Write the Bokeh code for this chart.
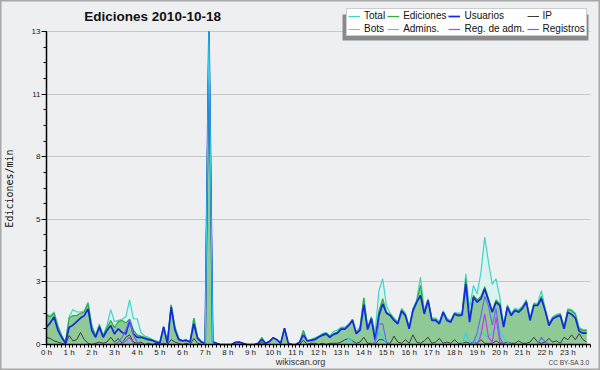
import math
from bokeh.plotting import figure
from bokeh.models import (Range1d, FixedTicker, Label, Legend, LegendItem,
                          BoxAnnotation, ColumnDataSource, LinearAxis, Grid)
from bokeh.embed import file_html
from bokeh.resources import INLINE

# ---- data: one value every 10 minutes (144 points) ----
minutes = list(range(0, 1440, 10))
hour_ticks = list(range(24))
hour_labels = [f"{h} h" for h in hour_ticks]
y_ticks = [0, 2.6, 5.2, 7.8, 10.4, 13]
y_labels = ["0", "3", "5", "8", "11", "13"]

total = [
    1.25, 1.20, 1.35, 0.80, 0.40, 0.10,
    1.15, 1.45, 1.35, 1.35, 1.40, 1.75,
    0.80, 0.40, 0.85, 0.40, 0.80, 1.45,
    0.95, 1.00, 1.05, 1.15, 1.85, 1.07,
    1.07, 0.50, 0.35, 0.30, 0.20, 0.15,
    0.10, 0.75, 0.15, 1.65, 0.75, 0.25,
    0.15, 0.20, 0.10, 1.10, 0.30, 0.15,
    0.05, 13.0, 0.15, 0.05, 0.00, 0.00,
    0.00, 0.00, 0.10, 0.10, 0.05, 0.00,
    0.00, 0.00, 0.05, 0.30, 0.05, 0.15,
    0.28, 0.20, 0.05, 0.68, 0.05, 0.00,
    0.00, 0.10, 0.58, 0.15, 0.20, 0.28,
    0.35, 0.45, 0.50, 0.36, 0.55, 0.60,
    0.72, 0.72, 0.85, 1.05, 0.50, 0.75,
    1.94, 0.70, 1.15, 0.50, 2.24, 2.73,
    1.60, 1.30, 1.10, 0.95, 1.50, 1.30,
    0.75, 1.50, 1.86, 2.80, 1.40, 1.90,
    1.10, 1.10, 0.95, 1.40, 1.10, 1.00,
    1.32, 1.30, 1.30, 2.94, 1.50, 2.45,
    2.10, 3.00, 4.46, 3.42, 2.50, 2.73,
    1.97, 0.80, 1.65, 1.30, 1.50, 1.45,
    1.60, 1.86, 1.10, 1.72, 1.70, 2.24,
    1.50, 0.90, 1.15, 1.25, 1.30, 0.75,
    1.48, 1.45, 1.30, 0.70, 0.62, 0.62,
]
ediciones = [
    1.20, 1.15, 1.30, 0.75, 0.35, 0.05,
    1.10, 1.20, 1.20, 1.30, 1.35, 1.70,
    0.75, 0.35, 0.80, 0.35, 0.70, 1.00,
    0.70, 0.95, 1.00, 0.90, 1.05, 0.60,
    0.40, 0.35, 0.30, 0.25, 0.20, 0.12,
    0.10, 0.75, 0.10, 1.65, 0.70, 0.25,
    0.15, 0.20, 0.10, 1.10, 0.30, 0.10,
    0.05, 13.0, 0.10, 0.05, 0.00, 0.00,
    0.00, 0.00, 0.10, 0.10, 0.05, 0.00,
    0.00, 0.00, 0.05, 0.28, 0.05, 0.15,
    0.28, 0.20, 0.05, 0.68, 0.05, 0.00,
    0.00, 0.10, 0.58, 0.15, 0.20, 0.25,
    0.32, 0.42, 0.48, 0.34, 0.45, 0.52,
    0.68, 0.68, 0.82, 1.05, 0.50, 0.70,
    1.94, 0.70, 1.12, 0.25, 1.40, 1.90,
    1.35, 1.25, 1.05, 0.90, 1.44, 1.25,
    0.70, 1.45, 1.80, 2.45, 1.35, 1.85,
    1.05, 1.05, 0.90, 1.36, 1.05, 0.95,
    1.30, 1.25, 1.25, 2.73, 1.10, 2.04,
    1.85, 2.00, 2.40, 1.90, 1.40, 1.85,
    1.70, 0.75, 1.60, 1.25, 1.45, 1.40,
    1.55, 1.83, 1.05, 1.68, 1.65, 2.00,
    1.45, 0.85, 1.10, 1.20, 1.25, 0.70,
    1.44, 1.40, 1.25, 0.65, 0.58, 0.58,
]
usuarios = [
    0.72, 0.90, 1.14, 0.60, 0.30, 0.05,
    0.72, 0.80, 0.95, 1.10, 1.20, 1.48,
    0.58, 0.30, 0.72, 0.30, 0.58, 0.79,
    0.44, 0.65, 0.50, 0.44, 1.00, 0.44,
    0.30, 0.30, 0.25, 0.20, 0.17, 0.10,
    0.05, 0.72, 0.05, 1.55, 0.60, 0.20,
    0.15, 0.17, 0.10, 0.86, 0.25, 0.10,
    0.05, 13.0, 0.10, 0.05, 0.00, 0.00,
    0.00, 0.00, 0.08, 0.10, 0.05, 0.00,
    0.00, 0.00, 0.05, 0.20, 0.05, 0.12,
    0.28, 0.20, 0.05, 0.68, 0.05, 0.00,
    0.00, 0.10, 0.40, 0.15, 0.17, 0.20,
    0.30, 0.38, 0.44, 0.30, 0.42, 0.47,
    0.64, 0.64, 0.79, 1.00, 0.45, 0.60,
    1.66, 0.62, 1.07, 0.17, 1.20, 1.69,
    1.30, 1.20, 1.00, 0.86, 1.39, 1.20,
    0.65, 1.40, 1.76, 2.04, 1.27, 1.83,
    1.00, 1.00, 0.86, 1.34, 1.00, 0.93,
    1.27, 1.20, 1.22, 2.52, 0.93, 1.97,
    1.76, 1.90, 2.31, 1.83, 1.34, 1.76,
    1.62, 0.72, 1.55, 1.20, 1.41, 1.34,
    1.50, 1.76, 1.00, 1.62, 1.62, 1.90,
    1.41, 0.79, 1.07, 1.15, 1.20, 0.65,
    1.34, 1.25, 1.10, 0.55, 0.47, 0.47,
]
ip = [
    0.30, 0.25, 0.15, 0.10, 0.05, 0.00,
    0.37, 0.15, 0.20, 0.50, 0.20, 0.05,
    0.00, 0.05, 0.10, 0.05, 0.10, 0.30,
    0.10, 0.25, 0.05, 0.30, 0.40, 0.10,
    0.05, 0.10, 0.00, 0.05, 0.00, 0.05,
    0.00, 0.05, 0.00, 0.20, 0.10, 0.05,
    0.00, 0.05, 0.00, 0.25, 0.05, 0.00,
    0.00, 0.00, 0.00, 0.00, 0.00, 0.00,
    0.00, 0.00, 0.00, 0.00, 0.00, 0.00,
    0.00, 0.00, 0.00, 0.08, 0.00, 0.00,
    0.00, 0.00, 0.00, 0.00, 0.00, 0.00,
    0.00, 0.00, 0.18, 0.00, 0.05, 0.05,
    0.00, 0.05, 0.00, 0.05, 0.05, 0.05,
    0.10, 0.20, 0.25, 0.15, 0.05, 0.10,
    0.30, 0.05, 0.05, 0.00, 0.20, 0.20,
    0.05, 0.05, 0.35, 0.10, 0.05, 0.20,
    0.05, 0.40, 0.10, 0.05, 0.15, 0.30,
    0.05, 0.10, 0.25, 0.05, 0.10, 0.05,
    0.20, 0.05, 0.05, 0.10, 0.05, 0.10,
    0.05, 0.20, 0.05, 0.05, 0.05, 0.15,
    0.05, 0.05, 0.10, 0.05, 0.05, 0.15,
    0.05, 0.05, 0.10, 0.30, 0.10, 0.05,
    0.10, 0.25, 0.10, 0.15, 0.05, 0.30,
    0.20, 0.40, 0.20, 0.45, 0.20, 0.10,
]
bots = [0.0] * 144
admins = [0.0] * 144
admins[0] = 0.10
admins[21] = 0.20
admins[43] = 13.0
admins[80:82] = [0.30, 0.10]
admins[87:90] = [0.10, 0.50, 0.30]
admins[111:113] = [0.50, 0.10]
admins[114:123] = [0.30, 0.50, 0.40, 0.30, 0.50, 0.70, 0.60, 0.30, 0.10]
reg_adm = [0.0] * 144
reg_adm[20:24] = [0.05, 0.15, 0.30, 0.05]
reg_adm[114:121] = [0.00, 0.40, 1.27, 0.30, 0.10, 1.14, 0.10]
registros = [0.0] * 144
registros[19:25] = [0.10, 0.30, 0.60, 1.05, 0.40, 0.10]
registros[87:91] = [0.10, 0.86, 0.86, 0.10]
registros[113:121] = [0.10, 0.50, 1.20, 2.00, 1.60, 0.80, 1.50, 0.30]
registros[131:133] = [0.30, 0.10]

src = ColumnDataSource(dict(
    t=[m / 60 for m in minutes], total=total, ediciones=ediciones,
    usuarios=usuarios, ip=ip, bots=bots, admins=admins,
    reg_adm=reg_adm, registros=registros, zero=[0.0] * len(minutes)))

# ---- layout (pixels of the 600x370 picture) ----
W, H = 600, 370
F_LEFT, F_RIGHT, F_TOP, F_BOTTOM = 46, 590, 31, 344
DAY = 24
YMAX = 13
px_h = (F_RIGHT - F_LEFT) / DAY
px_u = (F_BOTTOM - F_TOP) / YMAX

FONT = "Liberation Sans"

p = figure(width=W, height=H, output_backend="svg", toolbar_location=None,
           title=None, x_axis_type=None, y_axis_type=None,
           x_range=Range1d(-F_LEFT / px_h, (W - F_LEFT) / px_h),
           y_range=Range1d(-(H - F_BOTTOM) / px_u, F_BOTTOM / px_u),
           min_border=0, background_fill_color="#eeeff1",
           border_fill_color="#eeeff1", outline_line_color="#a8a8a8",
           outline_line_width=2)

x_ticker = FixedTicker(ticks=hour_ticks, minor_ticks=[m / 60 for m in range(0, 1441, 10)])
y_ticker = FixedTicker(ticks=y_ticks, minor_ticks=[k * 0.65 for k in range(21)])

p.add_layout(Grid(dimension=1, ticker=y_ticker, bounds=(0, YMAX), cross_bounds=(0, DAY),
                  grid_line_color="#c8c8c8", grid_line_width=1))

# filled areas
p.varea(x="t", y1="zero", y2="total", source=src, fill_color="#dcf2ee")
p.varea(x="t", y1="zero", y2="ediciones", source=src, fill_color="#8fca96")

r_bots = p.line("t", "bots", source=src, line_color="#f0a030", line_width=1)
r_total = p.line("t", "total", source=src, line_color="#3fd4c6", line_width=1.2)
r_ed = p.line("t", "ediciones", source=src, line_color="#2fae3a", line_width=1.2)
r_ip = p.line("t", "ip", source=src, line_color="#3c3c3c", line_width=1)
r_users = p.line("t", "usuarios", source=src, line_color="#1428e0", line_width=1.7)
r_adm = p.line("t", "admins", source=src, line_color="#2ed0ec", line_width=1.1)
r_regadm = p.line("t", "reg_adm", source=src, line_color="#c23cf0", line_width=1.2)
r_reg = p.line("t", "registros", source=src, line_color="#6a6af6", line_width=1.2)

# axes drawn at the data origin
xa = LinearAxis(fixed_location=0, bounds=(0, DAY), ticker=x_ticker)
xa.major_label_overrides = dict(zip(hour_ticks, hour_labels))
xa.major_tick_out = 3
xa.major_tick_in = 0
xa.minor_tick_out = 3
xa.minor_tick_in = 0
xa.major_label_standoff = 0
xa.axis_line_width = 1.5

ya = LinearAxis(fixed_location=0, bounds=(0, YMAX), ticker=y_ticker)
ya.major_label_overrides = dict(zip(y_ticks, y_labels))
ya.major_tick_out = 5
ya.major_tick_in = 0
ya.minor_tick_out = 3
ya.minor_tick_in = 0
ya.major_label_standoff = 1
ya.axis_line_width = 1.5

for ax in (xa, ya):
    ax.major_label_text_font = FONT
    ax.major_label_text_font_size = "8px"
    ax.major_label_text_color = "#222222"
    ax.axis_line_color = "#000000"
    ax.major_tick_line_color = "#000000"
    ax.minor_tick_line_color = "#000000"
p.add_layout(xa, "below")
p.add_layout(ya, "left")

# texts (screen units measured from the bottom-left corner)
p.add_layout(Label(x=9, y=H - 188, x_units="screen", y_units="screen",
                   text="Ediciones/min", angle=math.pi / 2, text_align="center",
                   text_baseline="middle", text_font="DejaVu Sans Mono",
                   text_font_size="10px", text_color="#111111"))
p.add_layout(Label(x=154, y=H - 16, x_units="screen", y_units="screen",
                   text="Ediciones  2010-10-18", text_align="center",
                   text_baseline="middle", text_font=FONT, text_font_style="bold",
                   text_font_size="13.5px", text_color="#111111"))
p.add_layout(Label(x=300, y=H - 361, x_units="screen", y_units="screen",
                   text="wikiscan.org", text_align="center", text_baseline="middle",
                   text_font=FONT, text_font_size="9px", text_color="#333333"))
p.add_layout(Label(x=589, y=H - 362, x_units="screen", y_units="screen",
                   text="CC BY-SA 3.0", text_align="right", text_baseline="middle",
                   text_font=FONT, text_font_size="6.5px", text_color="#444444"))

# legend shadow + legend
p.add_layout(BoxAnnotation(left=342, right=588, bottom=H - 40, top=H - 14,
                           left_units="screen", right_units="screen",
                           bottom_units="screen", top_units="screen",
                           fill_color="#8a8a8a", fill_alpha=1, line_color=None))
legend = Legend(items=[
    LegendItem(label="Total", renderers=[r_total]),
    LegendItem(label="Ediciones", renderers=[r_ed]),
    LegendItem(label="Usuarios", renderers=[r_users]),
    LegendItem(label="IP", renderers=[r_ip]),
    LegendItem(label="Bots", renderers=[r_bots]),
    LegendItem(label="Admins.", renderers=[r_adm]),
    LegendItem(label="Reg. de adm.", renderers=[r_regadm]),
    LegendItem(label="Registros", renderers=[r_reg]),
], location=(346, H - 36), orientation="horizontal", ncols=4,
   label_text_font=FONT, label_text_font_size="10px", label_text_color="#111111",
   glyph_width=12, glyph_height=10, label_height=10, label_standoff=4,
   spacing=2, padding=1, margin=0, border_line_color="#999999",
   background_fill_color="#ffffff", background_fill_alpha=1)
p.add_layout(legend)

open("out.html", "w").write(file_html(p, INLINE))
